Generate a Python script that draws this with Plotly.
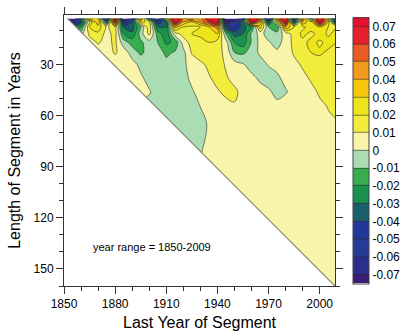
import plotly.graph_objects as go

# Last year of each segment (grid columns)
end_years = [1850, 1855, 1860, 1865, 1870, 1875, 1880, 1885, 1890, 1895, 1900,
             1905, 1910, 1915, 1920, 1925, 1930, 1935, 1940, 1945, 1950, 1955,
             1960, 1965, 1970, 1975, 1980, 1985, 1990, 1995, 2000, 2005, 2010]

# Segment lengths in years (grid rows)
seg_lengths = [3, 5, 8, 12, 17, 23, 30, 38, 46, 55, 65, 80, 100, 125, 160]

# Linear trend of each segment (degC / year), one list per segment length
trend_len003 = [-0.08, -0.09, -0.02, 0.05, 0.03, -0.06, 0.09, -0.09, -0.05, 0.05, -0.03,
                -0.08, 0.02, 0.10, 0.05, 0.06, 0.03, 0.09, 0.10, -0.10, -0.08, -0.05,
                0.10, 0.06, -0.07, 0.05, 0.10, -0.06, 0.06, -0.02, 0.10, 0.02, -0.06]
trend_len005 = [-0.06, -0.07, -0.04, 0.01, 0.04, -0.03, 0.07, -0.06, -0.04, 0.03, 0.01,
                -0.05, -0.03, 0.08, 0.04, 0.03, 0.045, 0.06, 0.08, -0.07, -0.06, -0.03,
                0.08, 0.04, -0.04, 0.02, 0.08, -0.04, 0.04, 0.02, 0.08, 0.03, -0.05]
trend_len008 = [-0.03, -0.03, -0.02, 0.02, 0.026, 0.008, 0.016, -0.032, -0.035, -0.01, 0.018,
                -0.03, -0.03, 0.035, 0.02, 0.018, 0.02, 0.03, 0.045, -0.04, -0.05, -0.035,
                -0.02, 0.025, -0.01, -0.02, 0.04, 0.02, 0.018, 0.024, 0.03, 0.02, 0.02]
trend_len012 = [-0.005, -0.005, -0.004, 0.012, 0.018, 0.006, 0.014, -0.02, -0.028, -0.005, 0.013,
                -0.015, -0.028, 0.005, 0.014, 0.02, 0.022, 0.025, 0.03, -0.01, -0.035, -0.03,
                -0.008, 0.004, -0.005, -0.006, 0.004, 0.015, 0.022, 0.018, 0.023, 0.019, 0.022]
trend_len017 = [0.006, 0.006, 0.006, 0.006, 0.011, 0.007, 0.012, -0.006, -0.014, -0.012, -0.004,
                -0.010, -0.022, -0.018, 0.005, 0.014, 0.017, 0.020, 0.016, 0.004, -0.020, -0.026,
                -0.009, 0.003, 0.001, -0.004, 0.004, 0.013, 0.018, 0.022, 0.019, 0.022, 0.020]
trend_len023 = [0.006, 0.006, 0.006, 0.006, 0.006, 0.006, 0.011, 0.006, -0.005, -0.012, -0.006,
                -0.006, -0.012, -0.009, -0.003, 0.011, 0.015, 0.016, 0.014, 0.007, -0.010, -0.012,
                -0.006, 0.002, 0.004, 0.002, 0.006, 0.011, 0.016, 0.020, 0.021, 0.019, 0.018]
trend_len030 = [0.005, 0.005, 0.005, 0.005, 0.005, 0.005, 0.005, 0.006, 0.004, -0.003, -0.006,
                -0.006, -0.007, -0.006, -0.002, 0.004, 0.008, 0.012, 0.014, 0.009, 0.004, 0.001,
                -0.005, -0.005, 0.001, 0.003, 0.005, 0.008, 0.011, 0.014, 0.017, 0.018, 0.018]
trend_len038 = [0.005, 0.005, 0.005, 0.005, 0.005, 0.005, 0.005, 0.005, 0.005, 0.002, -0.004,
                -0.006, -0.007, -0.006, -0.003, 0.002, 0.006, 0.009, 0.013, 0.011, 0.007, 0.006,
                0.003, -0.002, -0.006, -0.002, 0.003, 0.005, 0.008, 0.011, 0.014, 0.016, 0.017]
trend_len046 = [0.004, 0.004, 0.004, 0.004, 0.004, 0.004, 0.004, 0.004, 0.004, 0.004, 0.001,
                -0.005, -0.006, -0.006, -0.006, -0.001, 0.003, 0.007, 0.009, 0.012, 0.012, 0.007,
                0.005, 0.004, 0.002, -0.004, -0.001, 0.004, 0.007, 0.008, 0.011, 0.014, 0.015]
trend_len055 = [-0.004, -0.004, -0.004, -0.004, -0.004, -0.004, -0.004, -0.004, -0.004, -0.004, -0.004,
                -0.006, -0.006, -0.006, -0.005, -0.003, 0.000, 0.003, 0.005, 0.007, 0.009, 0.008,
                0.006, 0.005, 0.004, 0.004, 0.005, 0.006, 0.007, 0.008, 0.0085, 0.0102, 0.0115]
trend_len065 = [-0.006, -0.006, -0.006, -0.006, -0.006, -0.006, -0.006, -0.006, -0.006, -0.006, -0.006,
                -0.006, -0.006, -0.006, -0.006, -0.005, -0.003, 0.001, 0.005, 0.006, 0.006, 0.006,
                0.006, 0.005, 0.005, 0.005, 0.006, 0.006, 0.007, 0.007, 0.008, 0.009, 0.0095]
trend_len080 = [-0.005, -0.005, -0.005, -0.005, -0.005, -0.005, -0.005, -0.005, -0.005, -0.005, -0.005,
                -0.005, -0.005, -0.005, -0.005, -0.005, -0.001, 0.003, 0.005, 0.005, 0.005, 0.005,
                0.005, 0.005, 0.005, 0.006, 0.006, 0.006, 0.006, 0.007, 0.007, 0.007, 0.007]
trend_len100 = [0.004, 0.004, 0.004, 0.004, 0.004, 0.004, 0.004, 0.004, 0.004, 0.004, 0.004,
                0.004, 0.004, 0.004, 0.004, 0.004, 0.004, 0.005, 0.005, 0.005, 0.005, 0.005,
                0.005, 0.005, 0.005, 0.005, 0.005, 0.006, 0.006, 0.006, 0.006, 0.006, 0.006]
trend_len125 = [0.005] * 33
trend_len160 = [0.005] * 33

trend_rows = [trend_len003, trend_len005, trend_len008, trend_len012, trend_len017,
              trend_len023, trend_len030, trend_len038, trend_len046, trend_len055,
              trend_len065, trend_len080, trend_len100, trend_len125, trend_len160]

# Record covered by the analysis
first_year, last_year = 1850, 2009

# Contour levels and one fill colour per band (below the first level ... above the last)
level_start, level_end, level_step = -0.07, 0.07, 0.01
level_labels = ["-0.07", "-0.06", "-0.05", "-0.04", "-0.03", "-0.02", "-0.01", "0",
                "0.01", "0.02", "0.03", "0.04", "0.05", "0.06", "0.07"]
level_values = [float(s) for s in level_labels]
band_colors = ["#3c1a78", "#2b2f8c", "#283a98", "#23379a", "#1a5e6c", "#18924e",
               "#36ae50", "#aaddb4", "#f8f4aa", "#f2ec3c", "#eee41a", "#fac80a",
               "#f39a1e", "#ea5a23", "#e5202b", "#e8102e"]
colorscale = [[i / (len(band_colors) - 1), c] for i, c in enumerate(band_colors)]

FONT = "Liberation Sans, Arial, Helvetica, sans-serif"

fig = go.Figure()

fig.add_trace(go.Contour(
    x=end_years, y=seg_lengths, z=trend_rows,
    colorscale=colorscale,
    contours=dict(start=level_start, end=level_end, size=level_step, coloring="fill"),
    line=dict(width=0.6, color="#2e2e26", smoothing=1),
    colorbar=dict(
        x=1.066, xanchor="left", y=0.5, yanchor="middle", xpad=0, ypad=0,
        thickness=16, thicknessmode="pixels", len=0.98, lenmode="fraction",
        tickvals=level_values, ticktext=level_labels, ticks="",
        tickfont=dict(family=FONT, size=12, color="black"),
        outlinewidth=1, outlinecolor="#444",
    ),
    hoverinfo="skip",
))

# Segments cannot be longer than the record: blank the area below the diagonal
diag_top = seg_lengths[0]
fig.add_trace(go.Scatter(
    x=[first_year, last_year, first_year, first_year],
    y=[1, last_year - first_year + 1, last_year - first_year + 1, 1],
    fill="toself", fillcolor="white", mode="none",
    showlegend=False, hoverinfo="skip",
))
fig.add_trace(go.Scatter(
    x=[first_year + diag_top - 1, last_year],
    y=[diag_top, last_year - first_year + 1],
    mode="lines", line=dict(color="#85856f", width=1.2),
    showlegend=False, hoverinfo="skip",
))

fig.add_annotation(
    x=1866, y=137, xref="x", yref="y", xanchor="left", yanchor="middle",
    text=f"year range = {first_year}-{last_year}", showarrow=False,
    font=dict(family=FONT, size=11, color="black"),
)

axis_common = dict(
    showline=True, linecolor="#333", linewidth=1, mirror="ticks",
    ticks="outside", ticklen=7, tickwidth=1, tickcolor="#333",
    showgrid=False, zeroline=False,
    tickfont=dict(family=FONT, size=12, color="black"),
)

fig.update_xaxes(
    range=[first_year, last_year], tickvals=[1850, 1880, 1910, 1940, 1970, 2000],
    minor=dict(dtick=10, tick0=1850, ticklen=4, ticks="outside", tickcolor="#333", showgrid=False),
    title=dict(text="Last Year of Segment", font=dict(family=FONT, size=16, color="black"), standoff=6),
    **axis_common,
)
fig.update_yaxes(
    range=[160, 1], tickvals=[30, 60, 90, 120, 150],
    minor=dict(dtick=10, tick0=0, ticklen=4, ticks="outside", tickcolor="#333", showgrid=False),
    title=dict(text="Length of Segment in Years", font=dict(family=FONT, size=16, color="black"), standoff=8),
    **axis_common,
)

fig.update_layout(
    width=408, height=334,
    margin=dict(l=64, r=73, t=15, b=48, autoexpand=False),
    paper_bgcolor="white", plot_bgcolor="white",
    showlegend=False,
)

fig.write_html("out.html")
